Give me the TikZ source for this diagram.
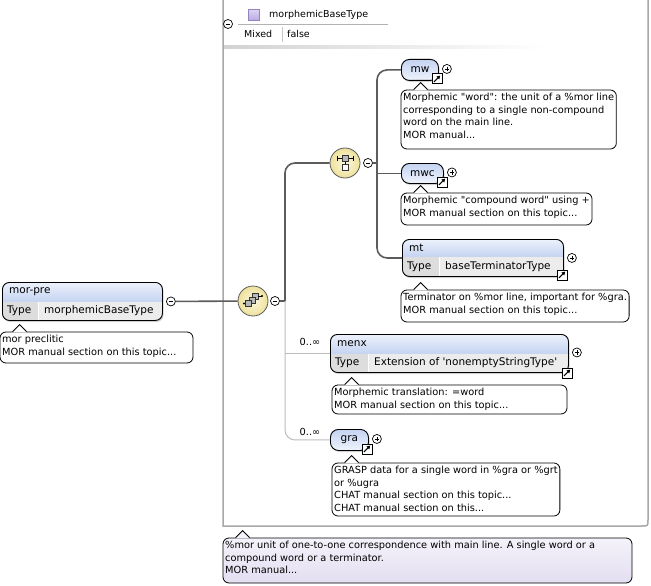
\documentclass[tikz,border=0pt]{standalone}
\usepackage{fontspec}
\setmainfont{DejaVu Sans}
\usetikzlibrary{calc,fit,backgrounds,arrows.meta}

\definecolor{hdrtop}{HTML}{EDF2FC}
\definecolor{hdrbot}{HTML}{C4D3F1}
\definecolor{typecell}{HTML}{DDDDDD}
\definecolor{valcell}{HTML}{ECECEC}
\definecolor{darkline}{HTML}{5C5C5C}
\definecolor{lightline}{HTML}{BDBDBD}
\definecolor{frameclr}{HTML}{A8A8A8}
\definecolor{compin}{HTML}{FCF8DE}
\definecolor{compout}{HTML}{EEE19C}
\definecolor{lavtop}{HTML}{F4F2FA}
\definecolor{lavbot}{HTML}{E3DEF1}
\definecolor{purtop}{HTML}{DDD4F2}
\definecolor{purbot}{HTML}{B9A9E0}
\definecolor{purbd}{HTML}{9484C4}

\tikzset{
  elfont/.style={font=\fontsize{10.5}{12}\selectfont},
  tipfont/.style={font=\fontsize{9.8}{12.6}\selectfont},
  hdrfont/.style={font=\fontsize{9.5}{12}\selectfont},
  conn/.style={draw=darkline, line width=1.6pt},
  optconn/.style={draw=lightline, line width=1pt},
  tiptext/.style={tipfont, align=left, inner xsep=2pt, inner ysep=3pt, anchor=north west},
  tipbox/.style={draw=black, line width=0.8pt, rounded corners=6pt, fill=white, inner sep=0pt},
  pmc/.style={circle, draw=black, fill=white, line width=0.7pt, minimum size=9pt, inner sep=0pt},
  linkbox/.style={draw=black, fill=white, line width=0.8pt, minimum size=10pt, inner sep=0pt},
  comp/.style={circle, draw=darkline, line width=0.8pt, inner color=compin, outer color=compout, minimum size=30pt, inner sep=0pt},
  sq/.style={draw=black!80, line width=0.5pt},
}

\newcommand{\plusc}[2]{%
  \node[pmc] (#1) at #2 {};
  \draw[line width=0.8pt] ($(#1.center)+(-2.4,0)$) -- ($(#1.center)+(2.4,0)$);
  \draw[line width=0.8pt] ($(#1.center)+(0,-2.4)$) -- ($(#1.center)+(0,2.4)$);}
\newcommand{\minusc}[2]{%
  \node[pmc] (#1) at #2 {};
  \draw[line width=0.8pt] ($(#1.center)+(-2.4,0)$) -- ($(#1.center)+(2.4,0)$);}
\newcommand{\linkicon}[2]{%
  \node[linkbox] (#1) at #2 {};
  \draw[line width=1.1pt, -{Triangle[length=3.4pt,width=3.8pt]}] ($(#1.center)+(-3,3)$) -- ($(#1.center)+(3.3,-3.3)$);}

% name, x, y, w, header h, row h, title, sep, value
\newcommand{\typedel}[9]{%
  \fill[black!18, rounded corners=7pt] (#2+1.5,#3+2) rectangle ++(#4,#5+#6);
  \begin{scope}
    \clip[rounded corners=7pt] (#2,#3) rectangle ++(#4,#5+#6);
    \shade[top color=hdrtop, bottom color=hdrbot] (#2,#3) rectangle ++(#4,#5);
    \fill[typecell] (#2,#3+#5) rectangle ++(#8,#6);
    \fill[valcell] (#2+#8,#3+#5) rectangle ++(#4-#8,#6);
    \draw[white, line width=1pt] (#2+#8,#3+#5) -- ++(0,#6);
  \end{scope}
  \node[draw=black, line width=0.9pt, rounded corners=7pt, anchor=north west,
        minimum width={#4*1pt}, minimum height={(#5+#6)*1pt}, inner sep=0pt] (#1) at (#2,#3) {};
  \node[elfont, anchor=west, inner sep=0pt] (#1-title) at (#2+7,#3+#5/2) {#7};
  \node[elfont, anchor=west, inner sep=0pt] (#1-type) at (#2+5,#3+#5+#6/2) {Type};
  \node[elfont, anchor=west, inner sep=0pt] (#1-value) at (#2+#8+6,#3+#5+#6/2) {#9};}

% name, x, y, w, h, text
\newcommand{\pillel}[6]{%
  \fill[black!18, rounded corners=8pt] (#2+1.5,#3+2) rectangle ++(#4,#5);
  \shade[rounded corners=8pt, top color=hdrbot, bottom color=hdrtop] (#2,#3) rectangle ++(#4,#5);
  \node[draw=black, line width=0.9pt, rounded corners=8pt, anchor=north west,
        minimum width={#4*1pt}, minimum height={#5*1pt}, inner sep=0pt] (#1) at (#2,#3) {};
  \node[elfont, inner sep=0pt] (#1-label) at (#1.center) {#6};}

\newcommand{\tippointer}[2]{%
  \fill[#2] ($(#1.north west)+(13,0.8)$) -- ($(#1.north west)+(20,-7)$) -- ($(#1.north west)+(27,0.8)$) -- cycle;
  \draw[line width=0.8pt, line join=miter] ($(#1.north west)+(13,0)$) -- ($(#1.north west)+(20,-7)$) -- ($(#1.north west)+(27,0)$);}

% name, x, y, xr, yb, text
\newcommand{\tip}[6]{%
  \node[tiptext] (#1-text) at (#2,#3) {#6};
  \coordinate (#1-corner) at (#4,#5);
  \begin{pgfonlayer}{background}
    \node[tipbox, fit=(#1-text)(#1-corner)] (#1) {};
  \end{pgfonlayer}
  \tippointer{#1}{white}}

\begin{document}
\begin{tikzpicture}[x=1pt, y=-1pt]
\useasboundingbox (0,0) rectangle (651,586);
\begin{pgfonlayer}{background}
  \fill[white] (0,0) rectangle (651,586);
\end{pgfonlayer}

% container
\draw[frameclr, line width=1.5pt] (223,-3) -- (223,526) -- (642,526) .. controls (648,526) .. (648,520) -- (648,-3);
\shade[left color=gray!35, right color=white] (224,46) rectangle (545,49);
\minusc{hdrm}{(228,24)}
\node[draw=purbd, line width=0.6pt, top color=purtop, bottom color=purbot, minimum size=11pt, inner sep=0pt] (hdrsq) at (254,15) {};
\node[hdrfont, anchor=west, inner sep=0pt] (hdrtitle) at (269,15) {morphemicBaseType};
\draw[gray!60, line width=0.8pt] (238,24) -- (388,24);
\node[hdrfont, anchor=west, inner sep=0pt] (mixed) at (244,34) {Mixed};
\draw[gray!45, line width=0.8pt] (282,27) -- (282,42);
\node[hdrfont, anchor=west, inner sep=0pt] (false) at (287,34) {false};

% elements
\typedel{morpre}{2}{282}{160}{20}{18}{mor-pre}{36}{morphemicBaseType}
\minusc{morprem}{($(morpre.east)+(8,0)$)}

\node[comp] (seq) at (253,301) {};
\draw[line width=0.8pt] ($(seq.center)+(-9,2.5)$) -- ++(3,0);
\fill ($(seq.center)+(-9,2.5)$) circle (1.2pt);
\filldraw[sq, fill=gray!55] ($(seq.center)+(-1,-8)$) rectangle ++(6,6);
\filldraw[sq, fill=gray!55] ($(seq.center)+(-4,-4)$) rectangle ++(6,6);
\filldraw[sq, fill=gray!55] ($(seq.center)+(-7.5,-0.5)$) rectangle ++(6,6);
\draw[line width=0.8pt] ($(seq.center)+(5,-5)$) -- ++(4,0);
\fill ($(seq.center)+(9,-5)$) circle (1.2pt);
\minusc{seqm}{(275,301)}

\node[comp] (choice) at (345,163) {};
\draw[line width=0.8pt] ($(choice.center)+(-8,-5)$) -- ($(choice.center)+(8,-5)$);
\draw[line width=0.8pt] ($(choice.center)+(-8,-7.5)$) -- ($(choice.center)+(-8,-2.5)$);
\draw[line width=0.8pt] ($(choice.center)+(8,-7.5)$) -- ($(choice.center)+(8,-2.5)$);
\draw[line width=0.8pt] ($(choice.center)+(0,-2)$) -- ($(choice.center)+(0,1.5)$);
\filldraw[sq, fill=gray!55] ($(choice.center)+(-3,-8)$) rectangle ++(6,6);
\filldraw[sq, fill=white] ($(choice.center)+(-3,1.5)$) rectangle ++(6,6);
\minusc{choicem}{(368,163)}

\pillel{mw}{401}{59}{37}{21}{mw}
\linkicon{mwlink}{($(mw.south east)+(-2,-2)$)}
\plusc{mwp}{($(mw.east)+(8,-1)$)}

\pillel{mwc}{401}{163}{42}{20}{mwc}
\linkicon{mwclink}{($(mwc.south east)+(-2,-2)$)}
\plusc{mwcp}{($(mwc.east)+(8,-1)$)}

\typedel{mt}{402}{239}{161}{18}{19}{mt}{37}{baseTerminatorType}
\linkicon{mtlink}{($(mt.south east)+(-2,-2)$)}
\plusc{mtp}{($(mt.east)+(8,0)$)}

\typedel{menx}{330}{334}{238}{20}{18}{menx}{38}{Extension of \textquotesingle nonemptyStringType\textquotesingle}
\linkicon{menxlink}{($(menx.south east)+(-2,0)$)}
\plusc{menxp}{($(menx.east)+(8,-1)$)}
\node[tipfont, inner sep=0pt] (menxocc) at (310,342) {0..∞};

\pillel{gra}{330}{429}{38}{21}{gra}
\linkicon{gralink}{($(gra.south east)+(-2,-2)$)}
\plusc{grap}{($(gra.east)+(8,-1)$)}
\node[tipfont, inner sep=0pt] (graocc) at (310,432) {0..∞};

% connectors
\draw[conn] (morprem) -- (seq);
\coordinate (sj) at (285,301);
\draw[conn] (seqm) -- (sj);
\draw[optconn, rounded corners=10pt] (sj) |- (gra);
\draw[optconn] (sj |- menx.west) -- (menx.west);
\draw[conn, rounded corners=10pt] (sj) |- (choice);
\coordinate (cj) at (377,163);
\draw[conn] (choicem) -- (cj);
\draw[conn, rounded corners=10pt] (cj) |- (mw.west);
\draw[conn] (cj |- mwc.west) -- (mwc.west);
\draw[conn, rounded corners=10pt] (cj) |- (mt.west);

% tooltips
\tip{morpretip}{0}{332}{193}{363}{mor preclitic\\MOR manual section on this topic...}
\tip{mwtip}{401}{90}{580}{149}{Morphemic \textquotedbl word\textquotedbl: the unit of a \%mor line\\corresponding to a single non-compound\\word on the main line.\\MOR manual...}
\tip{mwctip}{401}{193}{590}{225}{Morphemic \textquotedbl compound word\textquotedbl{} using +\\MOR manual section on this topic...}
\tip{mttip}{401}{290}{627}{322}{Terminator on \%mor line, important for \%gra.\\MOR manual section on this topic...}
\tip{menxtip}{332}{385}{567}{414}{Morphemic translation: =word\\MOR manual section on this topic...}
\tip{gratip}{332}{463}{550}{516}{GRASP data for a single word in \%gra or \%grt\\or \%ugra\\CHAT manual section on this topic...\\CHAT manual section on this...}

\node[tiptext] (annot-text) at (223,538) {\%mor unit of one-to-one correspondence with main line. A single word or a\\compound word or a terminator.\\MOR manual...};
\coordinate (annot-corner) at (632,583);
\begin{pgfonlayer}{background}
  \node[tipbox, top color=lavtop, bottom color=lavbot, fit=(annot-text)(annot-corner)] (annot) {};
\end{pgfonlayer}
\tippointer{annot}{lavtop}
\end{tikzpicture}
\end{document}
